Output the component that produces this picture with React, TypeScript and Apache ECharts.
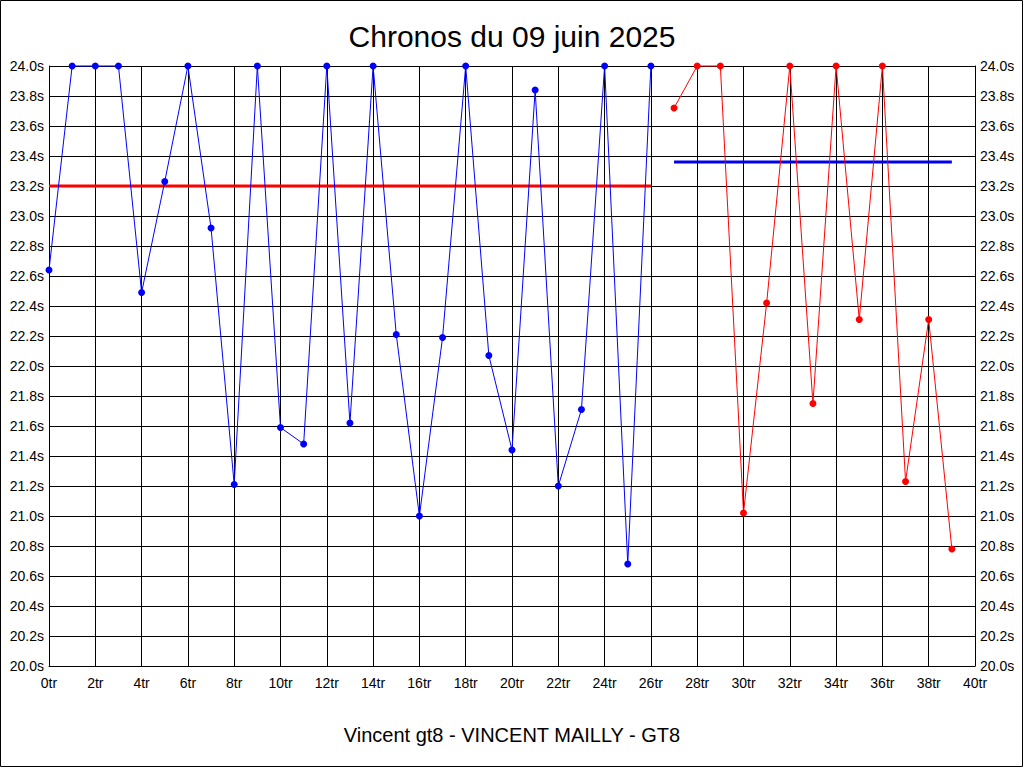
import React, { useEffect, useRef } from "react";
import * as echarts from "echarts";

const titleText = "Chronos du 09 juin 2025";
const subtitleText = "Vincent gt8 - VINCENT MAILLY - GT8";

// Lap numbers (x) and lap times (s)
const blueLaps = [0, 1, 2, 3, 4, 5, 6, 7, 8, 9, 10, 11, 12, 13, 14, 15, 16, 17, 18, 19, 20, 21, 22, 23, 24, 25, 26];
const blueTimes = [22.64, 24.0, 24.0, 24.0, 22.49, 23.23, 24.0, 22.92, 21.21, 24.0, 21.59, 21.48, 24.0, 21.62, 24.0, 22.21, 21.0, 22.19, 24.0, 22.07, 21.44, 23.84, 21.2, 21.71, 24.0, 20.68, 24.0];

const redLaps = [27, 28, 29, 30, 31, 32, 33, 34, 35, 36, 37, 38, 39];
const redTimes = [23.72, 24.0, 24.0, 21.02, 22.42, 24.0, 21.75, 24.0, 22.31, 24.0, 21.23, 22.31, 20.78];

// Average lines: [startLap, endLap, value]
const redAvg = [0, 26, 23.2];
const blueAvg = [27, 39, 23.36];

const xMin = 0;
const xMax = 40;
const xStep = 2;
const yMin = 20;
const yMax = 24;
const yStep = 0.2;

const FONT = "'Liberation Sans', Arial, sans-serif";

export default function App() {
  const ref = useRef<HTMLDivElement>(null);

  useEffect(() => {
    document.body.style.margin = "0";
    if (!ref.current) return;
    const chart = echarts.init(ref.current, undefined, { renderer: "svg" });

    const yLabel = (v: number) => v.toFixed(1) + "s";
    const yAxisCommon = {
      type: "value" as const,
      min: yMin,
      max: yMax,
      interval: yStep,
      axisLine: { show: true, lineStyle: { color: "#000", width: 1 } },
      axisTick: { show: false },
      splitLine: { show: true, lineStyle: { color: "#000", width: 1 } },
      axisLabel: {
        formatter: yLabel,
        color: "#000",
        fontSize: 14,
        fontFamily: FONT,
        margin: 5,
      },
    };

    chart.setOption({
      animation: false,
      backgroundColor: "#fff",
      textStyle: { fontFamily: FONT },
      grid: { left: 49, top: 66, width: 926, height: 600, containLabel: false },
      xAxis: {
        type: "value",
        min: xMin,
        max: xMax,
        interval: xStep,
        axisLine: { show: true, onZero: false, lineStyle: { color: "#000", width: 1 } },
        axisTick: { show: false },
        splitLine: { show: true, lineStyle: { color: "#000", width: 1 } },
        axisLabel: {
          formatter: (v: number) => v + "tr",
          color: "#000",
          fontSize: 14,
          fontFamily: FONT,
          margin: 10,
        },
      },
      yAxis: [
        { ...yAxisCommon, position: "left" },
        { ...yAxisCommon, position: "right", axisLabel: { ...yAxisCommon.axisLabel } },
      ],
      graphic: [
        {
          type: "rect",
          silent: true,
          shape: { x: 0.5, y: 0.5, width: 1022, height: 766 },
          style: { fill: "none", stroke: "#000", lineWidth: 1 },
          z: 100,
        },
        {
          type: "text",
          x: 512,
          y: 36,
          style: {
            text: titleText,
            fill: "#000",
            font: `30px ${FONT}`,
            align: "center",
            verticalAlign: "middle",
          },
        },
        {
          type: "text",
          x: 512,
          y: 735,
          style: {
            text: subtitleText,
            fill: "#000",
            font: `20px ${FONT}`,
            align: "center",
            verticalAlign: "middle",
          },
        },
      ],
      series: [
        {
          type: "line",
          yAxisIndex: 0,
          data: [
            [redAvg[0], redAvg[2]],
            [redAvg[1], redAvg[2]],
          ],
          symbol: "none",
          lineStyle: { color: "#ff0000", width: 3 },
          clip: false,
          z: 3,
        },
        {
          type: "line",
          yAxisIndex: 0,
          data: [
            [blueAvg[0], blueAvg[2]],
            [blueAvg[1], blueAvg[2]],
          ],
          symbol: "none",
          lineStyle: { color: "#0000ee", width: 3 },
          clip: false,
          z: 3,
        },
        {
          type: "line",
          yAxisIndex: 0,
          data: blueLaps.map((l, i) => [l, blueTimes[i]]),
          symbol: "circle",
          symbolSize: 7,
          itemStyle: { color: "#0000ff" },
          lineStyle: { color: "#0000ff", width: 1 },
          clip: false,
          z: 4,
        },
        {
          type: "line",
          yAxisIndex: 0,
          data: redLaps.map((l, i) => [l, redTimes[i]]),
          symbol: "circle",
          symbolSize: 7,
          itemStyle: { color: "#ff0000" },
          lineStyle: { color: "#ff0000", width: 1 },
          clip: false,
          z: 4,
        },
      ],
    });

    return () => chart.dispose();
  }, []);

  return <div ref={ref} style={{ width: 1024, height: 768 }} />;
}
